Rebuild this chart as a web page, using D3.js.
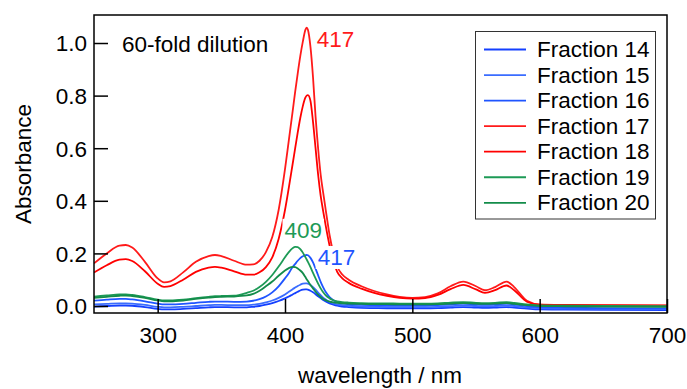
<!DOCTYPE html>
<html>
<head>
<meta charset="utf-8">
<script src="https://cdn.jsdelivr.net/npm/d3@7"></script>
<style>
  html, body { margin: 0; padding: 0; background: #fff; }
  svg { display: block; font-family: "Liberation Sans", Arial, sans-serif; }
</style>
</head>
<body>
<svg id="chart" width="687" height="389"></svg>
<script>
// Wavelength grid (nm) shared by all spectra
const wavelengths = [250,260,270,275,280,290,300,305,310,320,330,340,345,350,360,370,375,380,385,390,395,400,403,406,408,410,412,414,416,417,418,420,422,424,426,428,430,432,435,438,441,445,450,460,470,480,490,500,510,520,530,540,550,557,565,574,580,590,600,620,650,700];

// Absorbance of each fraction at the wavelengths above
const fraction14 = [-0.002,0.000,0.002,0.002,0.001,-0.004,-0.011,-0.013,-0.013,-0.011,-0.008,-0.005,-0.004,-0.004,-0.005,-0.005,-0.003,0.000,0.005,0.011,0.019,0.029,0.036,0.044,0.049,0.054,0.059,0.062,0.063,0.063,0.062,0.058,0.052,0.045,0.037,0.030,0.023,0.017,0.010,0.005,0.001,-0.002,-0.004,-0.007,-0.008,-0.009,-0.009,-0.009,-0.009,-0.008,-0.006,-0.004,-0.006,-0.007,-0.006,-0.004,-0.006,-0.010,-0.013,-0.014,-0.015,-0.016];
const fraction15 = [0.006,0.008,0.010,0.010,0.009,0.004,-0.003,-0.005,-0.005,-0.003,0.000,0.003,0.004,0.004,0.003,0.003,0.005,0.008,0.014,0.021,0.031,0.044,0.054,0.064,0.070,0.076,0.081,0.085,0.086,0.086,0.085,0.080,0.072,0.062,0.051,0.041,0.032,0.025,0.016,0.010,0.006,0.003,0.001,-0.002,-0.003,-0.004,-0.004,-0.004,-0.004,-0.003,-0.001,0.002,0.000,-0.001,0.000,0.002,0.000,-0.005,-0.008,-0.010,-0.011,-0.012];
const fraction16 = [0.020,0.024,0.027,0.027,0.025,0.018,0.009,0.006,0.006,0.008,0.012,0.016,0.017,0.017,0.016,0.017,0.020,0.026,0.036,0.052,0.075,0.105,0.125,0.148,0.160,0.172,0.182,0.189,0.193,0.194,0.193,0.183,0.166,0.142,0.117,0.092,0.071,0.053,0.034,0.022,0.015,0.010,0.007,0.004,0.003,0.002,0.002,0.002,0.002,0.003,0.006,0.009,0.006,0.005,0.006,0.009,0.006,0.000,-0.004,-0.006,-0.008,-0.009];
const fraction17 = [0.162,0.200,0.230,0.232,0.222,0.168,0.105,0.090,0.094,0.128,0.168,0.190,0.194,0.190,0.172,0.157,0.158,0.172,0.205,0.262,0.365,0.520,0.630,0.740,0.815,0.885,0.950,1.005,1.050,1.058,1.050,0.985,0.870,0.720,0.600,0.500,0.430,0.365,0.270,0.200,0.150,0.120,0.100,0.075,0.057,0.044,0.035,0.031,0.034,0.048,0.075,0.093,0.075,0.060,0.072,0.093,0.072,0.020,0.006,0.004,0.003,0.002];
const fraction18 = [0.127,0.155,0.176,0.178,0.171,0.132,0.085,0.073,0.076,0.100,0.130,0.146,0.149,0.146,0.132,0.119,0.119,0.128,0.148,0.185,0.255,0.365,0.450,0.540,0.600,0.660,0.715,0.760,0.792,0.800,0.802,0.780,0.700,0.600,0.500,0.420,0.360,0.305,0.230,0.170,0.130,0.105,0.088,0.066,0.050,0.039,0.031,0.028,0.030,0.042,0.064,0.080,0.063,0.050,0.060,0.078,0.060,0.016,0.004,0.003,0.002,0.001];
const fraction19 = [0.036,0.040,0.044,0.044,0.042,0.034,0.024,0.021,0.021,0.024,0.030,0.035,0.037,0.038,0.039,0.050,0.058,0.072,0.092,0.118,0.150,0.185,0.205,0.220,0.225,0.224,0.216,0.203,0.186,0.177,0.168,0.148,0.126,0.105,0.085,0.067,0.052,0.040,0.029,0.022,0.018,0.015,0.013,0.011,0.010,0.010,0.009,0.009,0.009,0.010,0.013,0.015,0.012,0.011,0.012,0.015,0.012,0.006,0.002,0.001,0.000,-0.001];
const fraction20 = [0.031,0.035,0.039,0.040,0.038,0.031,0.021,0.018,0.018,0.021,0.027,0.032,0.034,0.035,0.036,0.040,0.046,0.058,0.075,0.093,0.115,0.135,0.144,0.149,0.148,0.143,0.135,0.125,0.110,0.102,0.095,0.080,0.067,0.054,0.043,0.034,0.027,0.022,0.017,0.014,0.012,0.010,0.009,0.008,0.007,0.007,0.006,0.006,0.006,0.007,0.009,0.011,0.009,0.008,0.009,0.011,0.008,0.003,0.000,-0.001,-0.002,-0.003];

const seriesNames = ["Fraction 14","Fraction 15","Fraction 16","Fraction 17","Fraction 18","Fraction 19","Fraction 20"];
const seriesValues = [fraction14, fraction15, fraction16, fraction17, fraction18, fraction19, fraction20];
const seriesColors = ["#1440ff","#3a6cff","#1f55ff","#ff1a1a","#ff0000","#1d9a56","#138c4a"];

const xTicksMajor = [300,400,500,600,700];
const yTicksMajor = [0.0,0.2,0.4,0.6,0.8,1.0];

// Peak annotations: [text, wavelength, absorbance, colour]
const peakLabels = [
  ["417", 417, 1.058, "#ff1a1a"],
  ["409", 409, 0.225, "#1d9a56"],
  ["417", 417, 0.194, "#1f55ff"]
];

const svg = d3.select("#chart");
const plot = {left: 94, right: 667, top: 15, bottom: 313};
const font = 22.5;

const x = d3.scaleLinear().domain([250, 700]).range([plot.left, plot.right]);
const y = d3.scaleLinear().domain([-0.0266, 1.1065]).range([plot.bottom, plot.top]);

svg.append("defs").append("clipPath").attr("id", "plotClip")
  .append("rect")
  .attr("x", plot.left).attr("y", plot.top)
  .attr("width", plot.right - plot.left).attr("height", plot.bottom - plot.top);

// Spectra
const line = d3.line()
  .x(d => x(d[0]))
  .y(d => y(d[1]))
  .curve(d3.curveMonotoneX);

const gLines = svg.append("g").attr("clip-path", "url(#plotClip)");
seriesValues.forEach((vals, i) => {
  gLines.append("path")
    .datum(wavelengths.map((w, k) => [w, vals[k]]))
    .attr("fill", "none")
    .attr("stroke", seriesColors[i])
    .attr("stroke-width", 1.8)
    .attr("stroke-linejoin", "round")
    .attr("d", line);
});

// Peak labels with white backing
const gLab = svg.append("g");
const labelOffsets = [[10, 19], [-12, -9], [11, 10]];
peakLabels.forEach((p, i) => {
  const t = gLab.append("text")
    .attr("x", x(p[1]) + labelOffsets[i][0])
    .attr("y", y(p[2]) + labelOffsets[i][1])
    .attr("font-size", font)
    .attr("fill", p[3])
    .text(p[0]);
  const bb = t.node().getBBox();
  gLab.insert("rect", "text")
    .attr("x", bb.x - 2).attr("y", bb.y + 1)
    .attr("width", bb.width + 4).attr("height", bb.height - 2)
    .attr("fill", "#fff");
});

// Axes: ticks point into the plot
const xMinor = d3.range(250, 701, 10).filter(v => v % 100 !== 0);
const yMinor = d3.range(0, 21).map(i => +(i * 0.05).toFixed(2)).filter(v => Math.round(v * 100) % 20 !== 0);

const gx = svg.append("g").attr("transform", `translate(0,${plot.bottom})`);
gx.call(d3.axisBottom(x).tickValues(xMinor).tickSize(-6).tickFormat(""));
gx.call(d3.axisBottom(x).tickValues(xTicksMajor).tickSize(-14).tickPadding(14).tickFormat(d3.format("d")));

const gy = svg.append("g").attr("transform", `translate(${plot.left},0)`);
gy.call(d3.axisLeft(y).tickValues(yMinor).tickSize(-6).tickFormat(""));
gy.call(d3.axisLeft(y).tickValues(yTicksMajor).tickSize(-14).tickPadding(7).tickFormat(d3.format(".1f")));

[gx, gy].forEach(g => {
  g.selectAll(".domain").remove();
  g.selectAll("line").attr("stroke", "#000").attr("stroke-width", 1.5);
  g.selectAll("text").attr("font-size", font).attr("fill", "#000")
    .attr("font-family", "'Liberation Sans', Arial, sans-serif");
});
gy.selectAll("text").attr("dy", "0.35em");

// Frame
svg.append("rect")
  .attr("x", plot.left).attr("y", plot.top)
  .attr("width", plot.right - plot.left).attr("height", plot.bottom - plot.top)
  .attr("fill", "none").attr("stroke", "#000").attr("stroke-width", 1.5);

// Axis titles
svg.append("text")
  .attr("x", 380)
  .attr("y", 383)
  .attr("text-anchor", "middle")
  .attr("font-size", font)
  .text("wavelength / nm");

svg.append("text")
  .attr("transform", `translate(31,${(plot.top + plot.bottom) / 2}) rotate(-90)`)
  .attr("text-anchor", "middle")
  .attr("font-size", font)
  .text("Absorbance");

svg.append("text")
  .attr("x", 122).attr("y", 51.5)
  .attr("font-size", font)
  .text("60-fold dilution");

// Legend
const legend = svg.append("g");
legend.append("rect")
  .attr("x", 475.5).attr("y", 31.5).attr("width", 180).attr("height", 187.5)
  .attr("fill", "#fff").attr("stroke", "#333").attr("stroke-width", 1);
seriesNames.forEach((name, i) => {
  const cy = 49.5 + i * 25.55;
  legend.append("line")
    .attr("x1", 484).attr("x2", 526).attr("y1", cy).attr("y2", cy)
    .attr("stroke", seriesColors[i]).attr("stroke-width", 1.8);
  legend.append("text")
    .attr("x", 537).attr("y", cy + 7.6)
    .attr("font-size", font)
    .text(name);
});
</script>
</body>
</html>
